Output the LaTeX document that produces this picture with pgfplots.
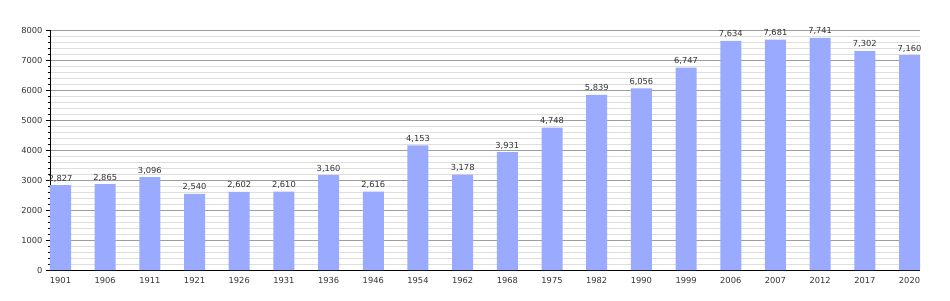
\documentclass[border=0pt]{standalone}
\usepackage{pgfplots}
\pgfplotsset{compat=1.18}
\usepackage{fontspec}
\setmainfont{DejaVu Sans}
\definecolor{barc}{HTML}{99AAFF}
\definecolor{txt}{HTML}{333333}
\begin{document}
\begin{tikzpicture}
\useasboundingbox (-50pt,-30pt) rectangle (900pt,270pt);
\begin{axis}[
  at={(0pt,0pt)}, anchor=south west,
  scale only axis, width=870pt, height=240pt,
  xmin=-0.235, xmax=19.235, ymin=0, ymax=8000,
  axis lines=left, axis line style={black, thick, -},
  xtick=data,
  xticklabels={1901,1906,1911,1921,1926,1931,1936,1946,1954,1962,1968,1975,1982,1990,1999,2006,2007,2012,2017,2020},
  x tick style={draw=none},
  ytick={0,1000,...,8000},
  minor y tick num=4,
  y tick style={black}, tick align=outside,
  major tick length=4pt, minor tick length=2.5pt,
  ymajorgrids, yminorgrids,
  major grid style={draw=black!38, line width=0.8pt},
  minor grid style={draw=black!13, line width=0.8pt},
  /pgf/number format/assume math mode=true,
  scaled y ticks=false,
  yticklabel style={/pgf/number format/1000 sep={}, font=\fontsize{8.3}{10}\selectfont, text=txt},
  xticklabel style={font=\fontsize{8.3}{10}\selectfont, text=txt},
  nodes near coords,
  nodes near coords style={font=\fontsize{8.3}{10}\selectfont, text=txt, /pgf/number format/1000 sep={,}, yshift=-0.5pt},
]
\addplot[ybar, bar width=0.47, fill=barc, draw=none] coordinates {
(0,2827) (1,2865) (2,3096) (3,2540) (4,2602) (5,2610) (6,3160) (7,2616) (8,4153) (9,3178)
(10,3931) (11,4748) (12,5839) (13,6056) (14,6747) (15,7634) (16,7681) (17,7741) (18,7302) (19,7160)
};
\end{axis}
\end{tikzpicture}
\end{document}
